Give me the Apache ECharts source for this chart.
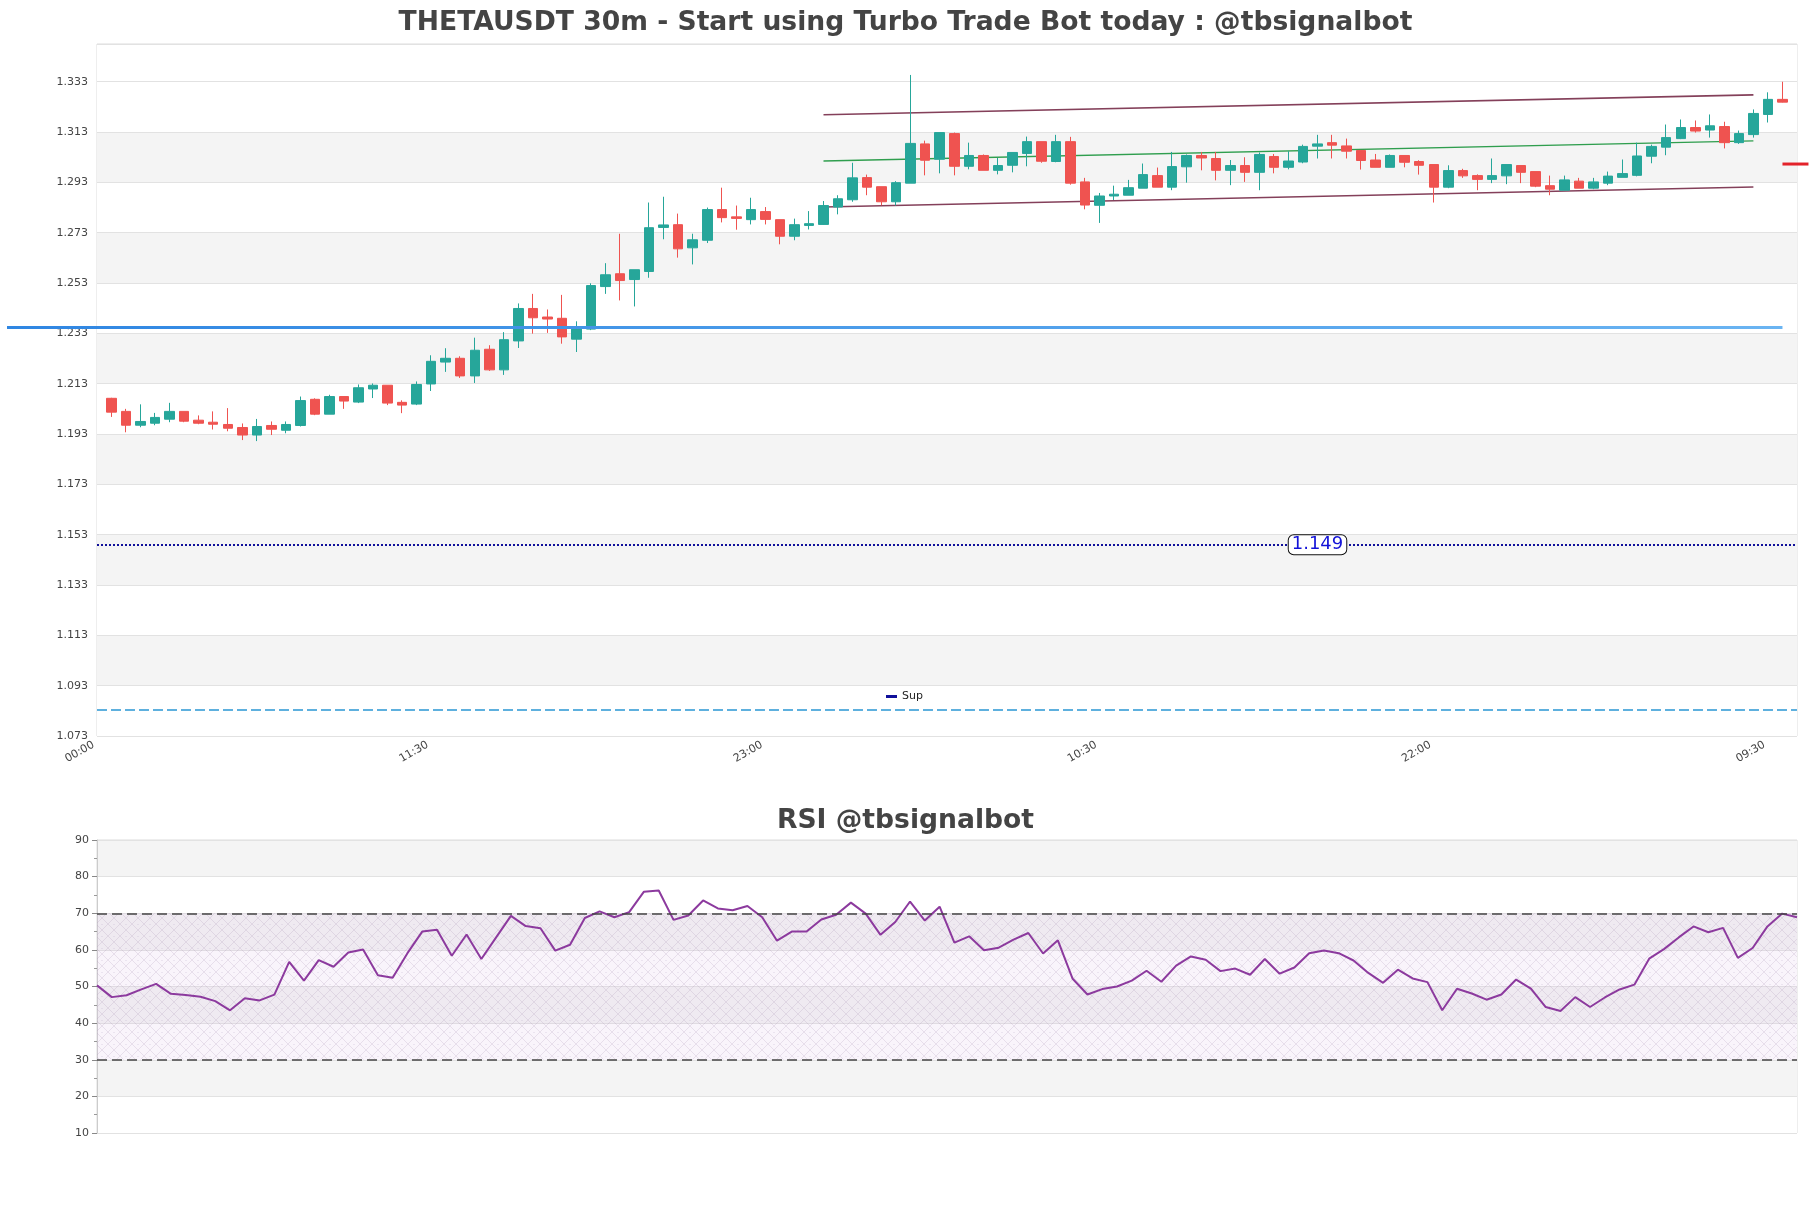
<!DOCTYPE html>
<html>
<head>
<meta charset="utf-8">
<title>THETAUSDT 30m</title>
<script src="https://cdn.jsdelivr.net/npm/echarts@6/dist/echarts.min.js"></script>
<style>
  html, body { margin: 0; padding: 0; background: #fff; }
  #chart { width: 1811px; height: 1208px; }
</style>
</head>
<body>
<div id="chart"></div>
<script>
// candles sit on slots 1..116 of the time axis, slot 0 (00:00) and the last slot stay empty
const opens = [
  1.2072, 1.2020, 1.1965, 1.1973, 1.1989, 1.2020, 1.1985, 1.1977, 1.1968, 1.1956,
  1.1926, 1.1964, 1.1945, 1.1964, 1.2068, 1.2009, 1.2079, 1.2057, 1.2109, 1.2124,
  1.2056, 1.2049, 1.2129, 1.2216, 1.2231, 1.2161, 1.2267, 1.2185, 1.2300, 1.2429,
  1.2395, 1.2390, 1.2307, 1.2347, 1.2516, 1.2567, 1.2544, 1.2576, 1.2751, 1.2762,
  1.2670, 1.2700, 1.2822, 1.2793, 1.2782, 1.2814, 1.2782, 1.2716, 1.2759, 1.2763,
  1.2832, 1.2861, 1.2949, 1.2913, 1.2853, 1.2927, 1.3083, 1.3022, 1.3124, 1.2994,
  1.3037, 1.2978, 1.2998, 1.3045, 1.3092, 1.3013, 1.3092, 1.2932, 1.2839, 1.2876,
  1.2879, 1.2907, 1.2957, 1.2911, 1.2992, 1.3037, 1.3025, 1.2978, 1.2997, 1.2970,
  1.3033, 1.2990, 1.3011, 1.3074, 1.3088, 1.3075, 1.3057, 1.3019, 1.2990, 1.3037,
  1.3013, 1.3001, 1.2911, 1.2977, 1.2957, 1.2942, 1.2956, 1.2997, 1.2973, 1.2917,
  1.2899, 1.2935, 1.2907, 1.2927, 1.2950, 1.2958, 1.3034, 1.3070, 1.3104, 1.3148,
  1.3138, 1.3152, 1.3088, 1.3120, 1.3200, 1.3260
];
const closes = [
  1.2017, 1.1965, 1.1980, 1.1996, 1.2020, 1.1981, 1.1973, 1.1969, 1.1953, 1.1926,
  1.1960, 1.1949, 1.1968, 1.2063, 1.2009, 1.2079, 1.2061, 1.2114, 1.2124, 1.2053,
  1.2045, 1.2127, 1.2219, 1.2231, 1.2161, 1.2263, 1.2185, 1.2305, 1.2429, 1.2392,
  1.2387, 1.2316, 1.2347, 1.2520, 1.2563, 1.2540, 1.2583, 1.2750, 1.2761, 1.2666,
  1.2702, 1.2822, 1.2790, 1.2787, 1.2822, 1.2783, 1.2716, 1.2762, 1.2766, 1.2838,
  1.2865, 1.2948, 1.2911, 1.2853, 1.2929, 1.3085, 1.3018, 1.3128, 1.2994, 1.3037,
  1.2978, 1.2997, 1.3049, 1.3092, 1.3014, 1.3092, 1.2927, 1.2840, 1.2876, 1.2883,
  1.2909, 1.2961, 1.2911, 1.2993, 1.3037, 1.3027, 1.2978, 1.2997, 1.2970, 1.3041,
  1.2990, 1.3015, 1.3073, 1.3083, 1.3078, 1.3054, 1.3017, 1.2990, 1.3037, 1.3010,
  1.2998, 1.2911, 1.2977, 1.2956, 1.2942, 1.2957, 1.3001, 1.2970, 1.2915, 1.2903,
  1.2940, 1.2907, 1.2932, 1.2955, 1.2965, 1.3035, 1.3073, 1.3108, 1.3148, 1.3134,
  1.3155, 1.3088, 1.3124, 1.3204, 1.3260, 1.3249
];
const lows = [
  1.1998, 1.1937, 1.1957, 1.1965, 1.1977, 1.1977, 1.1969, 1.1948, 1.1941, 1.1906,
  1.1902, 1.1926, 1.1933, 1.1960, 1.2005, 1.2009, 1.2030, 1.2053, 1.2073, 1.2045,
  1.2013, 1.2045, 1.2101, 1.2177, 1.2153, 1.2133, 1.2181, 1.2165, 1.2272, 1.2329,
  1.2332, 1.2289, 1.2256, 1.2343, 1.2487, 1.2461, 1.2437, 1.2551, 1.2704, 1.2631,
  1.2604, 1.2689, 1.2771, 1.2742, 1.2763, 1.2763, 1.2684, 1.2700, 1.2743, 1.2761,
  1.2803, 1.2853, 1.2879, 1.2839, 1.2838, 1.2927, 1.2958, 1.2966, 1.2958, 1.2982,
  1.2978, 1.2962, 1.2970, 1.2994, 1.3008, 1.3010, 1.2921, 1.2823, 1.2769, 1.2860,
  1.2879, 1.2907, 1.2911, 1.2899, 1.2929, 1.2978, 1.2938, 1.2919, 1.2932, 1.2899,
  1.2966, 1.2982, 1.3006, 1.3025, 1.3025, 1.3025, 1.2981, 1.2990, 1.2990, 1.2990,
  1.2961, 1.2850, 1.2907, 1.2948, 1.2899, 1.2927, 1.2923, 1.2927, 1.2911, 1.2879,
  1.2899, 1.2907, 1.2903, 1.2919, 1.2950, 1.2954, 1.3006, 1.3038, 1.3102, 1.3128,
  1.3108, 1.3065, 1.3083, 1.3108, 1.3168, 1.3248
];
const highs = [
  1.2074, 1.2030, 1.2048, 1.2014, 1.2054, 1.2020, 1.2004, 1.2020, 1.2033, 1.1972,
  1.1990, 1.1980, 1.1980, 1.2079, 1.2072, 1.2086, 1.2079, 1.2127, 1.2131, 1.2124,
  1.2064, 1.2139, 1.2243, 1.2271, 1.2239, 1.2313, 1.2283, 1.2335, 1.2449, 1.2487,
  1.2425, 1.2483, 1.2378, 1.2529, 1.2609, 1.2726, 1.2583, 1.2850, 1.2873, 1.2806,
  1.2726, 1.2830, 1.2909, 1.2838, 1.2869, 1.2832, 1.2782, 1.2786, 1.2816, 1.2856,
  1.2879, 1.3008, 1.2961, 1.2913, 1.2935, 1.3357, 1.3096, 1.3128, 1.3128, 1.3088,
  1.3041, 1.3027, 1.3049, 1.3112, 1.3092, 1.3119, 1.3111, 1.2948, 1.2888, 1.2917,
  1.2940, 1.3005, 1.2989, 1.3051, 1.3041, 1.3051, 1.3051, 1.3019, 1.3030, 1.3049,
  1.3043, 1.3054, 1.3080, 1.3119, 1.3119, 1.3104, 1.3057, 1.3043, 1.3041, 1.3037,
  1.3018, 1.3001, 1.2998, 1.2984, 1.2962, 1.3025, 1.3001, 1.2997, 1.2973, 1.2957,
  1.2957, 1.2948, 1.2948, 1.2973, 1.3021, 1.3088, 1.3080, 1.3160, 1.3180, 1.3176,
  1.3200, 1.3171, 1.3136, 1.3220, 1.3288, 1.3330
];

// RSI, one value per 30m bar, spans the full width of its own panel
const rsiValues = [
  50.3, 47.1, 47.6, 49.2, 50.7, 48.0, 47.7, 47.2, 46.0, 43.5,
  46.8, 46.2, 47.8, 56.7, 51.6, 57.2, 55.4, 59.3, 60.1, 53.1,
  52.4, 59.1, 65.0, 65.5, 58.4, 64.2, 57.5, 63.4, 69.3, 66.5,
  65.9, 59.8, 61.4, 68.7, 70.5, 68.9, 70.3, 75.9, 76.2, 68.2,
  69.4, 73.5, 71.3, 70.8, 72.0, 68.9, 62.5, 65.0, 65.0, 68.3,
  69.6, 72.9, 69.9, 64.1, 67.6, 73.2, 68.0, 71.8, 62.0, 63.7,
  59.9, 60.6, 62.8, 64.6, 59.0, 62.6, 52.1, 47.8, 49.3, 50.0,
  51.6, 54.3, 51.3, 55.7, 58.2, 57.3, 54.2, 54.9, 53.2, 57.5,
  53.5, 55.2, 59.1, 59.8, 59.1, 57.1, 53.7, 51.0, 54.6, 52.2,
  51.2, 43.5, 49.4, 48.1, 46.4, 47.8, 51.9, 49.4, 44.4, 43.3,
  47.1, 44.4, 47.0, 49.2, 50.5, 57.6, 60.2, 63.4, 66.4, 64.8,
  66.0, 57.8, 60.5, 66.4, 69.9, 68.9
];

// price levels drawn over the candles
const supportLevel = 1.149;
const blueLevel = 1.2353;
const dashedLevel = 1.0835;
const lastMark = 1.3003;
const channelFrom = 50;
const channelTo = 114;
const upperChannel = [1.3199, 1.3278];
const middleChannel = [1.3015, 1.3095];
const lowerChannel = [1.2832, 1.2912];

// axes
const priceMin = 1.073;
const priceMax = 1.348;
const priceStep = 0.02;
const rsiMin = 10;
const rsiMax = 90;
const rsiStep = 10;
const slotCount = 118;

function pad(n) { return (n < 10 ? '0' : '') + n; }
const timeLabels = [];
for (let i = 0; i < slotCount; i++) {
  const m = (i * 30) % 1440;
  timeLabels.push(pad(Math.floor(m / 60)) + ':' + pad(m % 60));
}

const candleData = timeLabels.map((t, i) => {
  const k = i - 1;
  if (k < 0 || k >= opens.length) return ['-', '-', '-', '-'];
  return [opens[k], closes[k], lows[k], highs[k]];
});

// grey/white bands, the part above the last labelled tick stays white
const bandCount = Math.ceil((priceMax - priceMin) / priceStep - 1e-9);
const priceBands = [];
for (let i = 0; i < bandCount; i++) priceBands.push(i % 2 ? '#f4f4f4' : '#ffffff');
priceBands[bandCount - 1] = '#ffffff';

function hatchTile() {
  const c = document.createElement('canvas');
  c.width = 12; c.height = 12;
  const g = c.getContext('2d');
  g.fillStyle = 'rgba(215,180,228,0.14)';
  g.fillRect(0, 0, 12, 12);
  g.strokeStyle = 'rgba(165,145,180,0.32)';
  g.lineWidth = 0.7;
  g.beginPath();
  g.moveTo(0, 0); g.lineTo(12, 12);
  g.moveTo(12, 0); g.lineTo(0, 12);
  g.stroke();
  g.fillStyle = 'rgba(170,150,185,0.35)';
  g.fillRect(5.5, 0, 1, 1);
  return c;
}

const FONT = 'DejaVu Sans';
const chart = echarts.init(document.getElementById('chart'));

const option = {
  animation: false,
  backgroundColor: '#ffffff',
  textStyle: { fontFamily: FONT },
  title: [
    {
      text: 'THETAUSDT 30m - Start using Turbo Trade Bot today : @tbsignalbot',
      left: 'center', top: 10, padding: 0,
      textStyle: { fontFamily: FONT, fontSize: 26.6, fontWeight: 'bold', color: '#444' }
    },
    {
      text: 'RSI @tbsignalbot',
      left: 'center', top: 808, padding: 0,
      textStyle: { fontFamily: FONT, fontSize: 26.6, fontWeight: 'bold', color: '#444' }
    }
  ],
  legend: {
    data: ['Sup'],
    left: 880, top: 688,
    padding: [3, 6],
    backgroundColor: 'rgba(255,255,255,0.9)',
    icon: 'rect', itemWidth: 11, itemHeight: 3,
    textStyle: { fontFamily: FONT, fontSize: 11, color: '#222' }
  },
  grid: [
    { left: 97, right: 14, top: 44, height: 692, show: true, borderColor: '#dddddd', borderWidth: 1 },
    { left: 97, right: 14, top: 840, height: 293, show: true, borderColor: '#dddddd', borderWidth: 1 }
  ],
  xAxis: [
    {
      type: 'category', gridIndex: 0, data: timeLabels, boundaryGap: false,
      axisLine: { show: false }, axisTick: { show: false },
      axisLabel: {
        interval: 22, rotate: 30, fontSize: 11, color: '#444', margin: 6, fontFamily: FONT,
        padding: [0, 4, 0, 0]
      },
      splitLine: { show: false }
    },
    {
      type: 'category', gridIndex: 1, data: rsiValues.map((v, i) => i), boundaryGap: false,
      axisLine: { show: false }, axisTick: { show: false }, axisLabel: { show: false },
      splitLine: { show: false }
    }
  ],
  yAxis: [
    {
      type: 'value', gridIndex: 0, min: priceMin, max: priceMax, interval: priceStep,
      axisLine: { show: false }, axisTick: { show: false },
      axisLabel: {
        fontSize: 11, color: '#444', margin: 9, fontFamily: FONT, showMaxLabel: false,
        formatter: v => v.toFixed(3)
      },
      splitLine: { lineStyle: { color: '#e2e2e2', width: 1 } },
      splitArea: { show: true, areaStyle: { color: priceBands } }
    },
    {
      type: 'value', gridIndex: 1, min: rsiMin, max: rsiMax, interval: rsiStep,
      axisLine: { show: true, lineStyle: { color: '#cccccc' } },
      axisTick: { show: true, length: 5, lineStyle: { color: '#888' } },
      minorTick: { show: true, splitNumber: 2, length: 3, lineStyle: { color: '#999' } },
      axisLabel: { fontSize: 11, color: '#444', margin: 8, fontFamily: FONT },
      splitLine: { lineStyle: { color: '#e2e2e2', width: 1 } },
      splitArea: { show: true, areaStyle: { color: ['#ffffff', '#f4f4f4'] } }
    }
  ],
  series: [
    {
      name: 'Channel',
      type: 'line', xAxisIndex: 0, yAxisIndex: 0,
      data: [], silent: true,
      markLine: {
        z: 1, silent: true, precision: 4, symbol: ['none', 'none'], label: { show: false },
        data: [
          [{ coord: [channelFrom, upperChannel[0]], lineStyle: { color: '#84405a', width: 1.6, type: 'solid' } },
           { coord: [channelTo, upperChannel[1]] }],
          [{ coord: [channelFrom, middleChannel[0]], lineStyle: { color: '#2f9e4e', width: 1.4, type: 'solid' } },
           { coord: [channelTo, middleChannel[1]] }],
          [{ coord: [channelFrom, lowerChannel[0]], lineStyle: { color: '#84405a', width: 1.6, type: 'solid' } },
           { coord: [channelTo, lowerChannel[1]] }]
        ]
      }
    },
    {
      name: 'THETAUSDT',
      type: 'candlestick', xAxisIndex: 0, yAxisIndex: 0,
      data: candleData,
      barWidth: 10,
      itemStyle: {
        color: '#26a69a', color0: '#ef5350',
        borderColor: '#26a69a', borderColor0: '#ef5350', borderWidth: 1
      },
      markLine: {
        silent: true, precision: 4, symbol: ['none', 'none'], label: { show: false },
        lineStyle: { color: '#2a96d4', width: 1.5, type: [10, 4] },
        data: [{ yAxis: dashedLevel }]
      },
      markPoint: {
        silent: true,
        data: [{
          coord: [opens.length, lastMark], symbol: 'rect', symbolSize: [26, 3],
          symbolOffset: [13, 0], itemStyle: { color: '#e3222a' }, label: { show: false }
        }]
      }
    },
    {
      name: 'Sup',
      type: 'line', xAxisIndex: 0, yAxisIndex: 0,
      data: timeLabels.map(() => '-'),
      color: '#10109a',
      lineStyle: { color: '#10109a', width: 2 },
      itemStyle: { color: '#10109a' },
      markLine: {
        silent: true, precision: 4, symbol: ['none', 'none'], label: { show: false },
        lineStyle: { color: '#10109a', width: 2, type: 'dotted' },
        data: [{ yAxis: supportLevel }]
      },
      markPoint: {
        silent: true,
        symbol: 'rect', symbolSize: 1,
        itemStyle: { color: 'rgba(0,0,0,0)' },
        label: {
          show: true, position: 'inside', formatter: supportLevel.toFixed(3),
          fontFamily: FONT, fontSize: 18, color: '#1212d8',
          backgroundColor: '#ffffff', borderColor: '#111', borderWidth: 1, borderRadius: 5,
          padding: [1, 3, 0, 3]
        },
        data: [{ coord: [84, supportLevel] }]
      }
    },
    {
      name: 'RSI',
      type: 'line', xAxisIndex: 1, yAxisIndex: 1,
      data: rsiValues, symbol: 'none', z: 3,
      lineStyle: { color: '#8c3a9e', width: 2 },
      markArea: {
        silent: true,
        itemStyle: { color: { image: hatchTile(), repeat: 'repeat' } },
        data: [[{ yAxis: 30 }, { yAxis: 70 }]]
      },
      markLine: {
        silent: true, symbol: ['none', 'none'], label: { show: false },
        lineStyle: { color: '#444', width: 1.5, type: [10, 5] },
        data: [{ yAxis: 70 }, { yAxis: 30 }]
      }
    }
  ]
};

chart.setOption(option);

// the thick blue level starts left of the plot and ends at the last candle
const end = chart.convertToPixel({ xAxisIndex: 0, yAxisIndex: 0 }, [opens.length, blueLevel]);
chart.setOption({
  graphic: [{
    type: 'line', z: 10, silent: true,
    shape: { x1: 7, y1: end[1], x2: end[0], y2: end[1] },
    style: {
      lineWidth: 3,
      stroke: new echarts.graphic.LinearGradient(7, 0, end[0], 0, [
        { offset: 0, color: '#2f86e2' },
        { offset: 1, color: '#6ab4f2' }
      ], true)
    }
  }]
});
</script>
</body>
</html>
